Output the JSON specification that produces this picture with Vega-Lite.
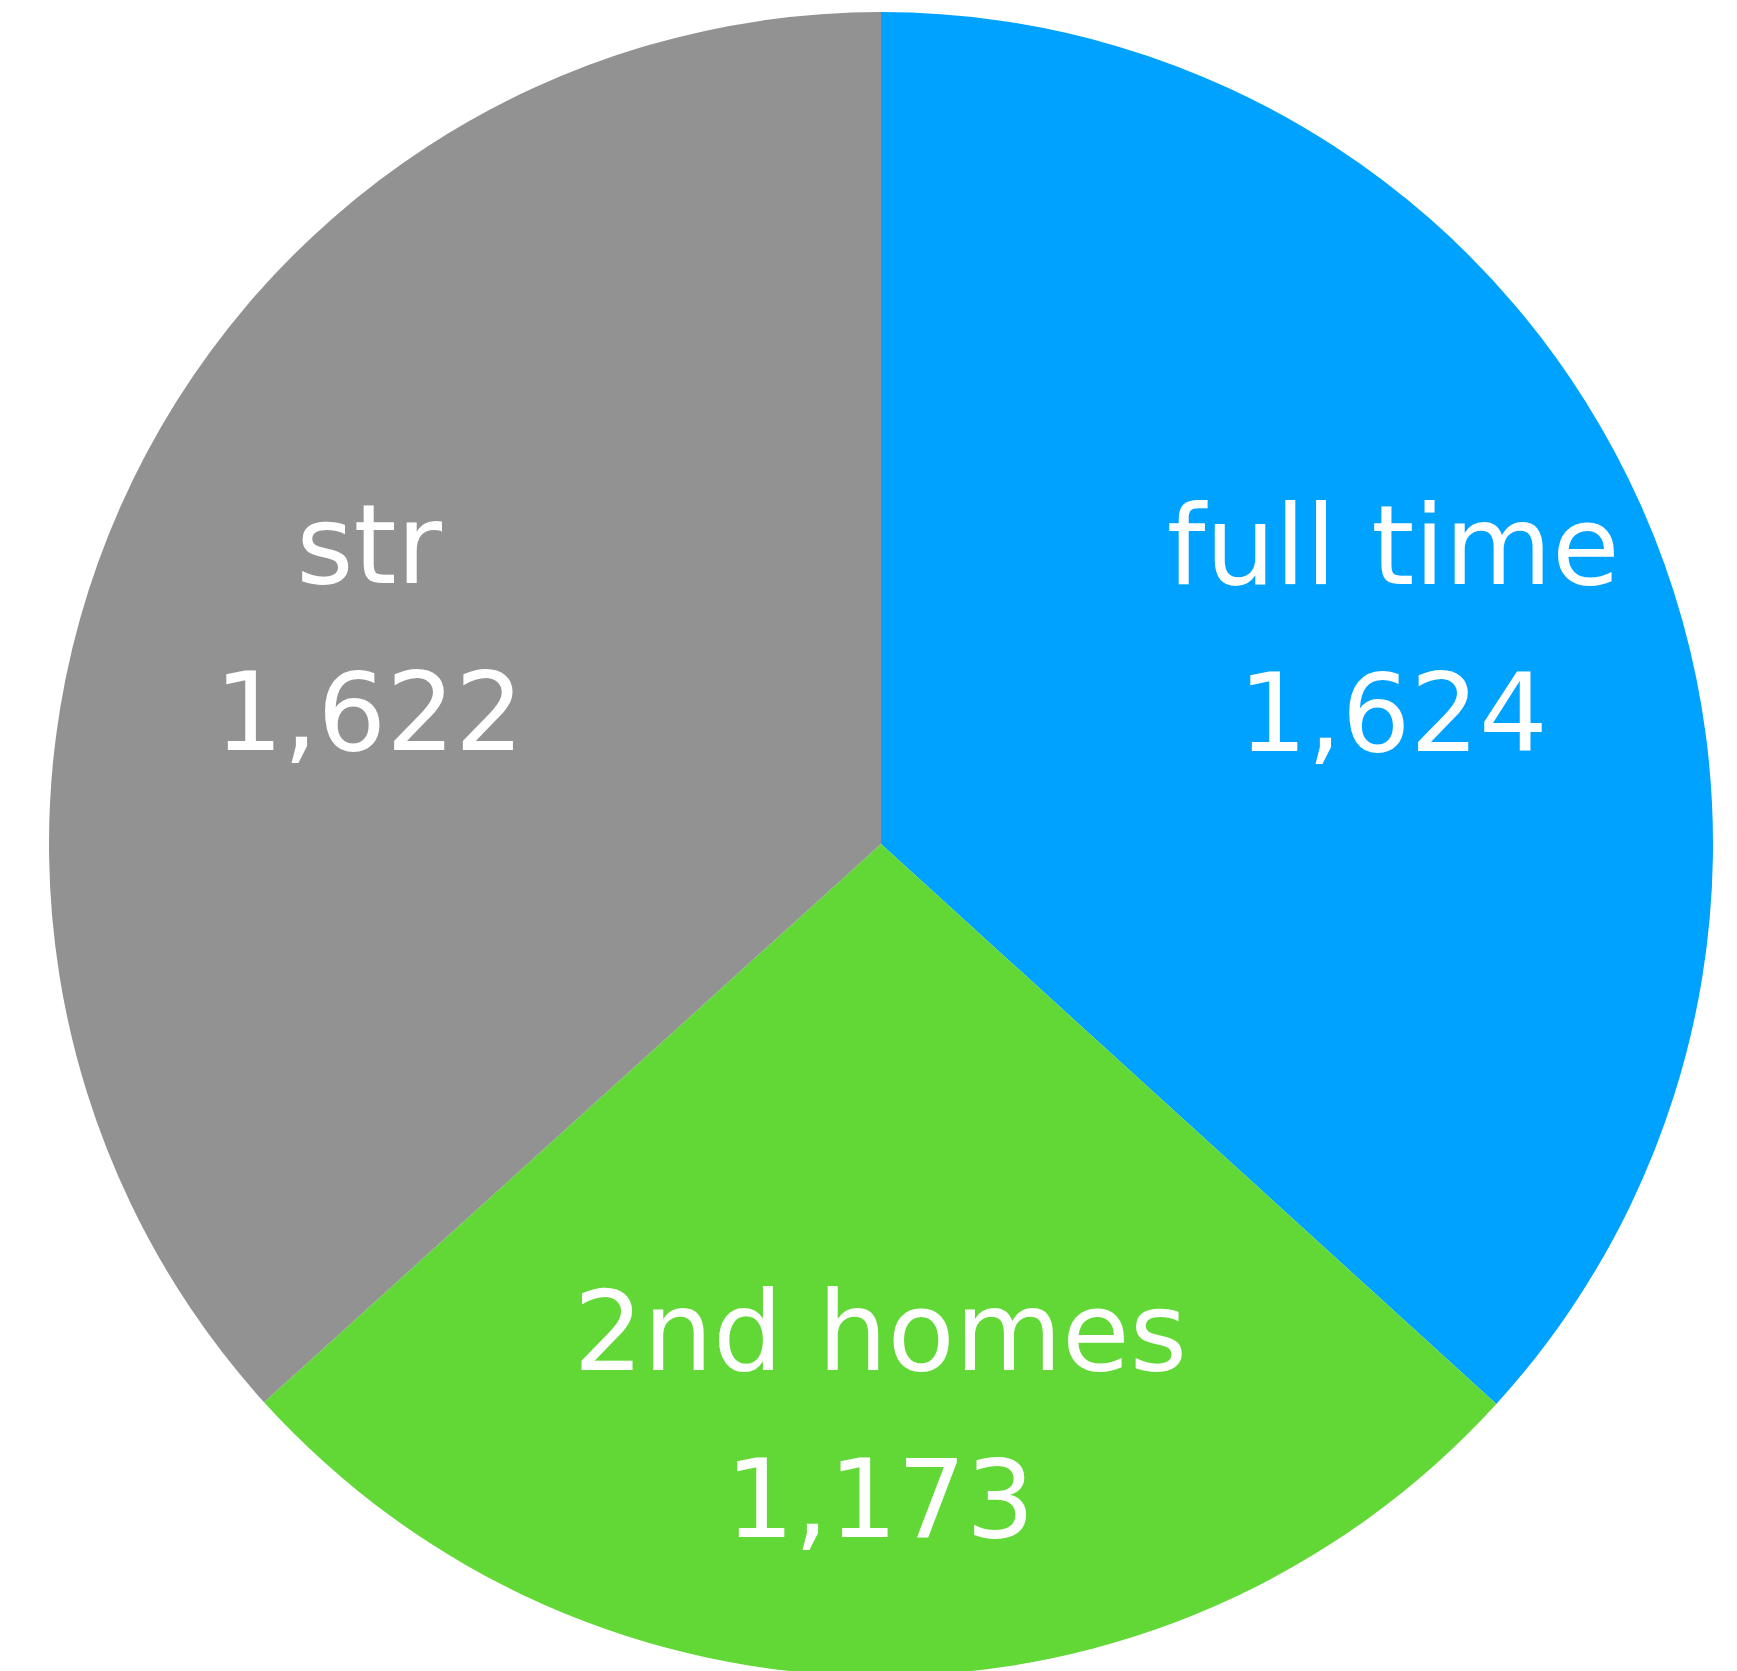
{
  "$schema": "https://vega.github.io/schema/vega-lite/v6.json",
  "autosize": {"type": "none"},
  "width": 1712,
  "height": 1654,
  "padding": {"left": 25, "top": 17, "right": 0, "bottom": 0},
  "background": "white",
  "config": {"view": {"stroke": null}},
  "data": {
    "values": [
      {"category": "full time", "count": 1624, "rank": 1},
      {"category": "2nd homes", "count": 1173, "rank": 2},
      {"category": "str", "count": 1622, "rank": 3}
    ]
  },
  "encoding": {
    "theta": {"field": "count", "type": "quantitative", "stack": true},
    "order": {"field": "rank", "type": "quantitative"},
    "color": {
      "field": "category",
      "type": "nominal",
      "scale": {"domain": ["full time", "2nd homes", "str"], "range": ["#00a2ff", "#61d836", "#929292"]},
      "legend": null
    }
  },
  "layer": [
    {"mark": {"type": "arc", "outerRadius": 832, "stroke": null}},
    {
      "mark": {"type": "text", "radius": 560, "dy": -67, "fontSize": 110, "font": "DejaVu Sans", "fill": "white", "baseline": "middle", "align": "center"},
      "encoding": {"text": {"field": "category"}, "color": {"value": "white"}}
    },
    {
      "mark": {"type": "text", "radius": 560, "dy": 101, "fontSize": 108, "font": "DejaVu Sans", "fill": "white", "baseline": "middle", "align": "center"},
      "encoding": {"text": {"field": "count", "type": "quantitative", "format": ","}, "color": {"value": "white"}}
    }
  ]
}
